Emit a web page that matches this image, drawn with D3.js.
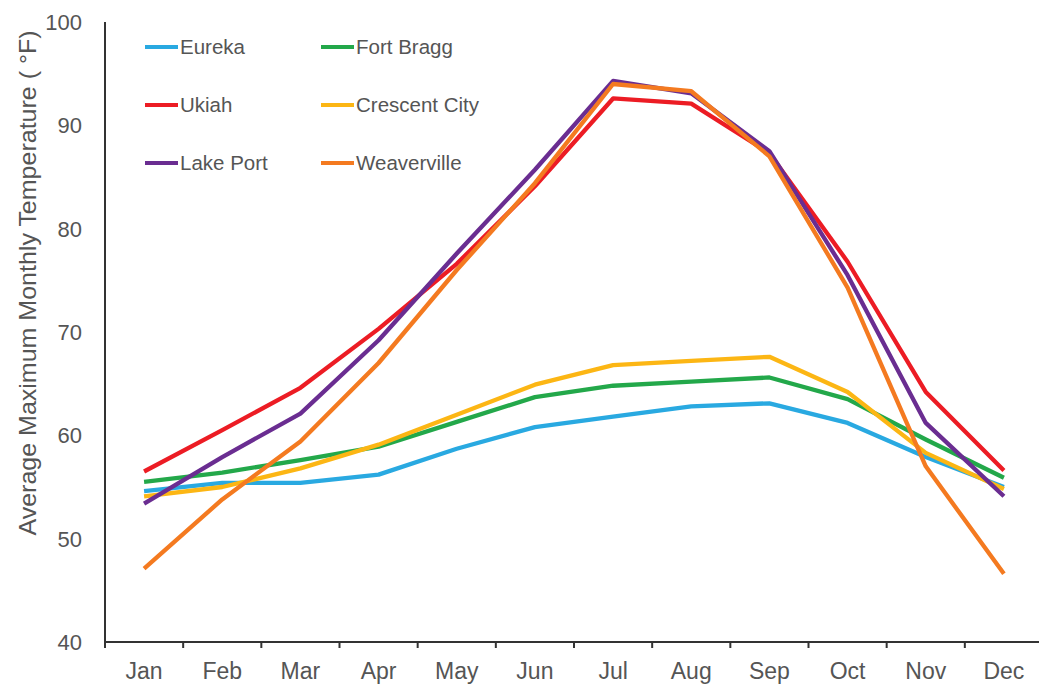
<!DOCTYPE html>
<html>
<head>
<meta charset="utf-8">
<script src="https://cdn.jsdelivr.net/npm/d3@7"></script>
<style>
  body { margin: 0; background: #fff; }
  svg text { font-family: "Liberation Sans", Arial, sans-serif; fill: #555; }
</style>
</head>
<body>
<svg id="chart" width="1039" height="686"></svg>
<script>
// months along the bottom
var months = ["Jan","Feb","Mar","Apr","May","Jun","Jul","Aug","Sep","Oct","Nov","Dec"];
var yTicks = [40, 50, 60, 70, 80, 90, 100];

// average max monthly temps (F)
var eureka      = [54.6, 55.4, 55.4, 56.2, 58.7, 60.8, 61.8, 62.8, 63.1, 61.2, 57.9, 55.0];
var fortBragg   = [55.5, 56.4, 57.6, 58.9, 61.3, 63.7, 64.8, 65.2, 65.6, 63.5, 59.6, 55.9];
var ukiah       = [56.5, 60.5, 64.6, 70.3, 76.6, 84.1, 92.6, 92.1, 87.3, 76.8, 64.2, 56.6];
var crescent    = [54.1, 55.0, 56.8, 59.1, 62.0, 64.9, 66.8, 67.2, 67.6, 64.2, 58.3, 54.8];
var lakePort    = [53.4, 57.9, 62.1, 69.2, 77.6, 85.7, 94.3, 93.1, 87.5, 75.5, 61.2, 54.1];
var weaverville = [47.1, 53.8, 59.4, 67.0, 76.0, 84.4, 94.0, 93.3, 87.0, 74.3, 57.0, 46.6];

var seriesNames  = ["Eureka", "Fort Bragg", "Ukiah", "Crescent City", "Lake Port", "Weaverville"];
var seriesValues = [eureka, fortBragg, ukiah, crescent, lakePort, weaverville];
var seriesColors = ["#29a9e1", "#23a84a", "#ec1c24", "#fcb614", "#6a2d91", "#f47a20"];

var svg = d3.select("#chart");
var plotL = 105, plotR = 1043, plotT = 22, plotB = 642;

var x = d3.scaleBand().domain(months).range([plotL, plotR]);
var y = d3.scaleLinear().domain([40, 100]).range([plotB, plotT]);

// x axis
var xAxis = svg.append("g")
  .attr("transform", "translate(0," + plotB + ")")
  .call(d3.axisBottom(x).tickSize(0).tickPadding(21));
xAxis.select(".domain").remove();
xAxis.selectAll("text").style("font-size", "23px").attr("fill", "#555");

svg.append("line")
  .attr("x1", plotL).attr("x2", 1039)
  .attr("y1", plotB).attr("y2", plotB)
  .attr("stroke", "#333").attr("stroke-width", 2);

// tick marks sit between the months
svg.selectAll(".xtick")
  .data(months.slice(1))
  .enter().append("line")
  .attr("x1", function(d) { return x(d); })
  .attr("x2", function(d) { return x(d); })
  .attr("y1", plotB).attr("y2", plotB + 6)
  .attr("stroke", "#333").attr("stroke-width", 2);

// y axis
svg.append("line")
  .attr("x1", plotL).attr("x2", plotL)
  .attr("y1", plotT).attr("y2", plotB + 6)
  .attr("stroke", "#333").attr("stroke-width", 2);

svg.selectAll(".ylabel")
  .data(yTicks)
  .enter().append("text")
  .attr("x", 82)
  .attr("y", function(d) { return y(d) + 8; })
  .attr("text-anchor", "end")
  .style("font-size", "22px")
  .text(function(d) { return d; });

svg.append("text")
  .attr("transform", "translate(36,283) rotate(-90)")
  .attr("text-anchor", "middle")
  .attr("textLength", 505)
  .attr("lengthAdjust", "spacingAndGlyphs")
  .style("font-size", "24px")
  .text("Average Maximum Monthly Temperature ( °F)");

// lines
var line = d3.line()
  .x(function(d, i) { return x(months[i]) + x.bandwidth() / 2; })
  .y(function(d) { return y(d); });

svg.selectAll(".series")
  .data(seriesValues)
  .enter().append("path")
  .attr("d", line)
  .attr("fill", "none")
  .attr("stroke", function(d, i) { return seriesColors[i]; })
  .attr("stroke-width", 4.3)
  .attr("stroke-linejoin", "round");

// legend, two columns
var legend = svg.selectAll(".legend")
  .data(seriesNames)
  .enter().append("g")
  .attr("transform", function(d, i) {
    return "translate(" + (i % 2 ? 321 : 145) + "," + (47 + Math.floor(i / 2) * 58) + ")";
  });

legend.append("line")
  .attr("x1", 0).attr("x2", 33)
  .attr("stroke", function(d, i) { return seriesColors[i]; })
  .attr("stroke-width", 4);

legend.append("text")
  .attr("x", 35).attr("y", 7)
  .style("font-size", "20.5px")
  .text(function(d) { return d; });
</script>
</body>
</html>
